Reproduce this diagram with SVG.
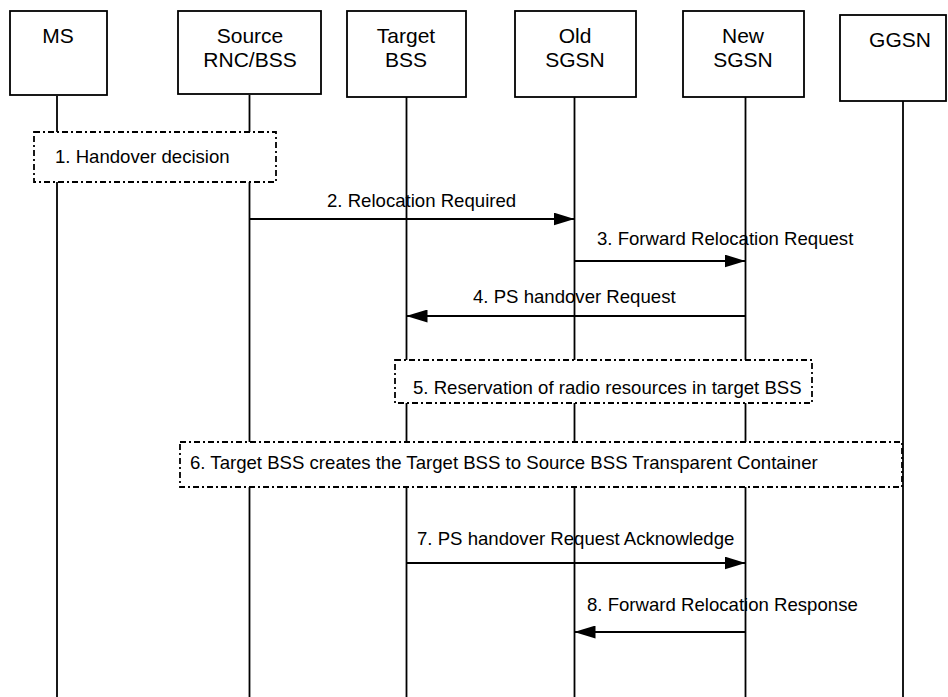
<svg xmlns="http://www.w3.org/2000/svg" width="948" height="697" viewBox="0 0 948 697">
<style>
text{font-family:"Liberation Sans",Arial,sans-serif;fill:#000}
.box{fill:#fff;stroke:#000;stroke-width:1.8}
.lbl{font-size:21px;text-anchor:middle}
.life{stroke:#000;stroke-width:1.8;fill:none}
.note{fill:#fff;stroke:#000;stroke-width:1.8;stroke-dasharray:6 3 2 3}
.msg{stroke:#000;stroke-width:2;fill:none;marker-end:url(#ah)}
.mt{font-size:18.6px}
</style>
<defs>
<marker id="ah" markerUnits="userSpaceOnUse" markerWidth="21" markerHeight="13" refX="21" refY="6.5" orient="auto">
<path d="M0,0 L21,6.5 L0,13 z" fill="#000"/>
</marker>
</defs>
<g id="lifelines">
<line class="life" x1="57" y1="96" x2="57" y2="697"/>
<line class="life" x1="249.5" y1="95" x2="249.5" y2="697"/>
<line class="life" x1="406.5" y1="97" x2="406.5" y2="697"/>
<line class="life" x1="574.5" y1="97" x2="574.5" y2="697"/>
<line class="life" x1="745.5" y1="97" x2="745.5" y2="697"/>
<line class="life" x1="903" y1="101" x2="903" y2="697"/>
</g>
<g id="MS"><rect class="box" x="10" y="11" width="97" height="84"/><text class="lbl" x="58" y="43">MS</text></g>
<g id="SourceRNC"><rect class="box" x="178" y="11" width="143" height="83"/><text class="lbl" x="250" y="43">Source</text><text class="lbl" x="250" y="67">RNC/BSS</text></g>
<g id="TargetBSS"><rect class="box" x="347" y="11" width="119" height="86"/><text class="lbl" x="406" y="43">Target</text><text class="lbl" x="406" y="67">BSS</text></g>
<g id="OldSGSN"><rect class="box" x="515" y="11" width="121" height="86"/><text class="lbl" x="575" y="43">Old</text><text class="lbl" x="575" y="67">SGSN</text></g>
<g id="NewSGSN"><rect class="box" x="683" y="11" width="121" height="86"/><text class="lbl" x="743" y="43">New</text><text class="lbl" x="743" y="67">SGSN</text></g>
<g id="GGSN"><rect class="box" x="840" y="15" width="106" height="86"/><text class="lbl" x="900" y="47">GGSN</text></g>
<g id="step1"><rect class="note" x="34" y="132" width="242" height="50"/><text class="mt" x="55" y="163">1. Handover decision</text></g>
<g id="step5"><rect class="note" x="395" y="360" width="417" height="43"/><text class="mt" x="413" y="394">5. Reservation of radio resources in target BSS</text></g>
<g id="step6"><rect class="note" x="180" y="442" width="722" height="45"/><text class="mt" x="190" y="469">6. Target BSS creates the Target BSS to Source BSS Transparent Container</text></g>
<g id="connectors">
<line class="msg" x1="249.5" y1="219" x2="574.5" y2="219"/>
<text class="mt" x="327" y="207">2. Relocation Required</text>
<line class="msg" x1="574.5" y1="261" x2="745.5" y2="261"/>
<text class="mt" x="597" y="245">3. Forward Relocation Request</text>
<line class="msg" x1="745.5" y1="316" x2="406.5" y2="316"/>
<text class="mt" x="473" y="303">4. PS handover Request</text>
<line class="msg" x1="406.5" y1="563" x2="745.5" y2="563"/>
<text class="mt" x="417" y="545">7. PS handover Request Acknowledge</text>
<line class="msg" x1="745.5" y1="632" x2="574.5" y2="632"/>
<text class="mt" x="587" y="611">8. Forward Relocation Response</text>
</g>
</svg>
